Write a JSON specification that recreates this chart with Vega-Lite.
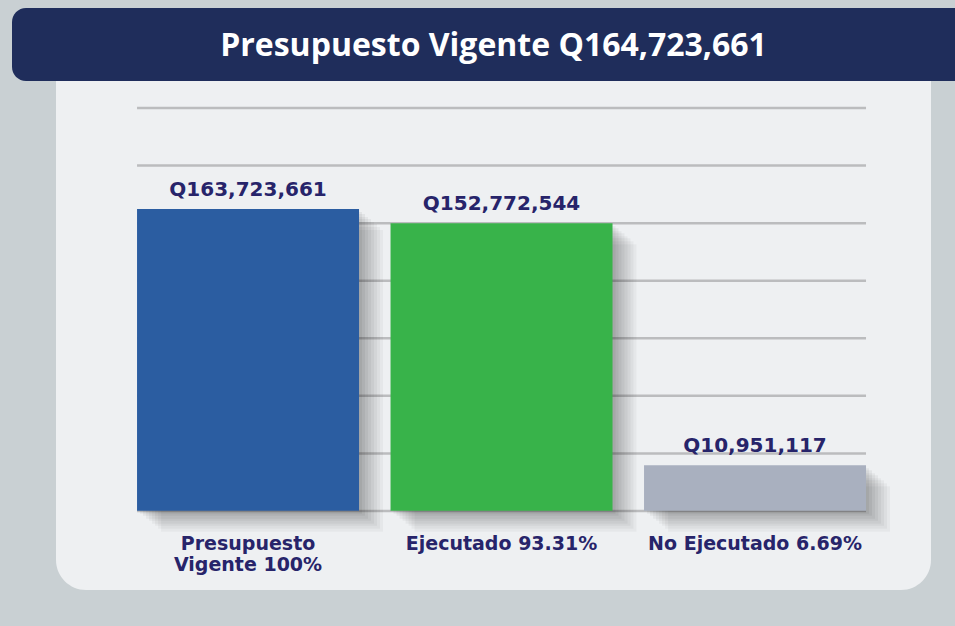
{
  "$schema": "https://vega.github.io/schema/vega-lite/v6.json",
  "background": "#c9d0d3",
  "padding": {"left": 12, "top": 8, "right": 0, "bottom": 36},
  "spacing": 0,
  "center": true,
  "config": {
    "view": {"stroke": null},
    "locale": {"number": {"decimal": ".", "thousands": ",", "grouping": [3], "currency": ["Q", ""]}}
  },
  "vconcat": [
    {
      "width": 963,
      "height": 73,
      "view": {"fill": "#1f2d5b", "cornerRadius": 14, "stroke": null},
      "data": {"values": [{"encabezado": "Presupuesto Vigente Q164,723,661"}]},
      "mark": {"type": "text", "font": "Open Sans", "fontSize": 32, "fontWeight": "bold", "color": "#ffffff", "baseline": "middle", "align": "center", "dy": 1},
      "encoding": {"text": {"field": "encabezado", "type": "nominal"}}
    },
    {
      "width": 875,
      "height": 509,
      "data": {"values": [
        {"categoria": "Presupuesto|Vigente 100%", "valor": 163723661},
        {"categoria": "Ejecutado 93.31%", "valor": 152772544},
        {"categoria": "No Ejecutado 6.69%", "valor": 10951117}
      ]},
      "resolve": {"scale": {"y": "independent"}},
      "layer": [
        {
          "data": {"values": [{"panel": "fondo"}]},
          "mark": {"type": "rect", "color": "#eef0f2", "cornerRadiusBottomLeft": 30, "cornerRadiusBottomRight": 30},
          "encoding": {
            "x": {"value": 0},
            "x2": {"value": "width"},
            "y": {"value": 0},
            "y2": {"value": "height"}
          }
        },
        {
          "data": {"values": [{"nivel": 0}, {"nivel": 1}, {"nivel": 2}, {"nivel": 3}, {"nivel": 4}, {"nivel": 5}, {"nivel": 6}, {"nivel": 7}]},
          "mark": {"type": "rule", "color": "#bbbcbe", "strokeWidth": 2.5},
          "encoding": {
            "y": {"field": "nivel", "type": "quantitative", "axis": null, "scale": {"domain": [-1.372, 7.469], "nice": false, "zero": false}},
            "x": {"datum": "Presupuesto|Vigente 100%", "type": "nominal", "bandPosition": 0, "axis": null,
                  "scale": {"type": "band", "domain": ["Presupuesto|Vigente 100%", "Ejecutado 93.31%", "No Ejecutado 6.69%"], "paddingInner": 0.1243, "paddingOuter": 0.2880, "align": 0.555}},
            "x2": {"datum": "No Ejecutado 6.69%", "bandPosition": 1}
          }
        },
        {
          "mark": {"type": "bar", "color": "#000000", "opacity": 0.035, "xOffset": 24, "x2Offset": 24, "yOffset": 21, "y2Offset": 21},
          "encoding": {
            "x": {"field": "categoria", "type": "nominal", "axis": null, "scale": {"type": "band", "domain": ["Presupuesto|Vigente 100%", "Ejecutado 93.31%", "No Ejecutado 6.69%"], "paddingInner": 0.1243, "paddingOuter": 0.2880, "align": 0.555}},
            "y": {"field": "valor", "type": "quantitative", "axis": null, "scale": {"type": "pow", "exponent": 0.7, "domain": [-24230000, 271200000], "nice": false, "zero": false}}
          }
        },
        {
          "mark": {"type": "bar", "color": "#000000", "opacity": 0.035, "xOffset": 21, "x2Offset": 21, "yOffset": 18, "y2Offset": 18},
          "encoding": {
            "x": {"field": "categoria", "type": "nominal", "axis": null, "scale": {"type": "band", "domain": ["Presupuesto|Vigente 100%", "Ejecutado 93.31%", "No Ejecutado 6.69%"], "paddingInner": 0.1243, "paddingOuter": 0.2880, "align": 0.555}},
            "y": {"field": "valor", "type": "quantitative", "axis": null, "scale": {"type": "pow", "exponent": 0.7, "domain": [-24230000, 271200000], "nice": false, "zero": false}}
          }
        },
        {
          "mark": {"type": "bar", "color": "#000000", "opacity": 0.04, "xOffset": 18, "x2Offset": 18, "yOffset": 15, "y2Offset": 15},
          "encoding": {
            "x": {"field": "categoria", "type": "nominal", "axis": null, "scale": {"type": "band", "domain": ["Presupuesto|Vigente 100%", "Ejecutado 93.31%", "No Ejecutado 6.69%"], "paddingInner": 0.1243, "paddingOuter": 0.2880, "align": 0.555}},
            "y": {"field": "valor", "type": "quantitative", "axis": null, "scale": {"type": "pow", "exponent": 0.7, "domain": [-24230000, 271200000], "nice": false, "zero": false}}
          }
        },
        {
          "mark": {"type": "bar", "color": "#000000", "opacity": 0.04, "xOffset": 15, "x2Offset": 15, "yOffset": 13, "y2Offset": 13},
          "encoding": {
            "x": {"field": "categoria", "type": "nominal", "axis": null, "scale": {"type": "band", "domain": ["Presupuesto|Vigente 100%", "Ejecutado 93.31%", "No Ejecutado 6.69%"], "paddingInner": 0.1243, "paddingOuter": 0.2880, "align": 0.555}},
            "y": {"field": "valor", "type": "quantitative", "axis": null, "scale": {"type": "pow", "exponent": 0.7, "domain": [-24230000, 271200000], "nice": false, "zero": false}}
          }
        },
        {
          "mark": {"type": "bar", "color": "#000000", "opacity": 0.045, "xOffset": 12, "x2Offset": 12, "yOffset": 10, "y2Offset": 10},
          "encoding": {
            "x": {"field": "categoria", "type": "nominal", "axis": null, "scale": {"type": "band", "domain": ["Presupuesto|Vigente 100%", "Ejecutado 93.31%", "No Ejecutado 6.69%"], "paddingInner": 0.1243, "paddingOuter": 0.2880, "align": 0.555}},
            "y": {"field": "valor", "type": "quantitative", "axis": null, "scale": {"type": "pow", "exponent": 0.7, "domain": [-24230000, 271200000], "nice": false, "zero": false}}
          }
        },
        {
          "mark": {"type": "bar", "color": "#000000", "opacity": 0.045, "xOffset": 9, "x2Offset": 9, "yOffset": 8, "y2Offset": 8},
          "encoding": {
            "x": {"field": "categoria", "type": "nominal", "axis": null, "scale": {"type": "band", "domain": ["Presupuesto|Vigente 100%", "Ejecutado 93.31%", "No Ejecutado 6.69%"], "paddingInner": 0.1243, "paddingOuter": 0.2880, "align": 0.555}},
            "y": {"field": "valor", "type": "quantitative", "axis": null, "scale": {"type": "pow", "exponent": 0.7, "domain": [-24230000, 271200000], "nice": false, "zero": false}}
          }
        },
        {
          "mark": {"type": "bar", "color": "#000000", "opacity": 0.05, "xOffset": 6, "x2Offset": 6, "yOffset": 5, "y2Offset": 5},
          "encoding": {
            "x": {"field": "categoria", "type": "nominal", "axis": null, "scale": {"type": "band", "domain": ["Presupuesto|Vigente 100%", "Ejecutado 93.31%", "No Ejecutado 6.69%"], "paddingInner": 0.1243, "paddingOuter": 0.2880, "align": 0.555}},
            "y": {"field": "valor", "type": "quantitative", "axis": null, "scale": {"type": "pow", "exponent": 0.7, "domain": [-24230000, 271200000], "nice": false, "zero": false}}
          }
        },
        {
          "mark": {"type": "bar", "color": "#000000", "opacity": 0.05, "xOffset": 3, "x2Offset": 3, "yOffset": 3, "y2Offset": 3},
          "encoding": {
            "x": {"field": "categoria", "type": "nominal", "axis": null, "scale": {"type": "band", "domain": ["Presupuesto|Vigente 100%", "Ejecutado 93.31%", "No Ejecutado 6.69%"], "paddingInner": 0.1243, "paddingOuter": 0.2880, "align": 0.555}},
            "y": {"field": "valor", "type": "quantitative", "axis": null, "scale": {"type": "pow", "exponent": 0.7, "domain": [-24230000, 271200000], "nice": false, "zero": false}}
          }
        },
        {
          "mark": {"type": "bar"},
          "encoding": {
            "x": {"field": "categoria", "type": "nominal", "axis": null, "scale": {"type": "band", "domain": ["Presupuesto|Vigente 100%", "Ejecutado 93.31%", "No Ejecutado 6.69%"], "paddingInner": 0.1243, "paddingOuter": 0.2880, "align": 0.555}},
            "y": {"field": "valor", "type": "quantitative", "axis": null, "scale": {"type": "pow", "exponent": 0.7, "domain": [-24230000, 271200000], "nice": false, "zero": false}},
            "color": {"field": "categoria", "type": "nominal", "legend": null,
                      "scale": {"domain": ["Presupuesto|Vigente 100%", "Ejecutado 93.31%", "No Ejecutado 6.69%"], "range": ["#2b5da1", "#38b34a", "#a9b0bf"]}}
          }
        },
        {
          "mark": {"type": "text", "font": "DejaVu Sans", "fontWeight": "bold", "fontSize": 20, "color": "#27246a", "baseline": "alphabetic", "align": "center", "dy": -13},
          "encoding": {
            "x": {"field": "categoria", "type": "nominal", "axis": null, "scale": {"type": "band", "domain": ["Presupuesto|Vigente 100%", "Ejecutado 93.31%", "No Ejecutado 6.69%"], "paddingInner": 0.1243, "paddingOuter": 0.2880, "align": 0.555}},
            "y": {"field": "valor", "type": "quantitative", "axis": null, "scale": {"type": "pow", "exponent": 0.7, "domain": [-24230000, 271200000], "nice": false, "zero": false}},
            "text": {"field": "valor", "type": "quantitative", "format": "$,.0f"}
          }
        },
        {
          "mark": {"type": "text", "font": "DejaVu Sans", "fontWeight": "bold", "fontSize": 19, "color": "#27246a", "baseline": "middle", "align": "center", "dy": 33, "lineBreak": "|", "lineHeight": 21},
          "encoding": {
            "x": {"field": "categoria", "type": "nominal", "axis": null, "scale": {"type": "band", "domain": ["Presupuesto|Vigente 100%", "Ejecutado 93.31%", "No Ejecutado 6.69%"], "paddingInner": 0.1243, "paddingOuter": 0.2880, "align": 0.555}},
            "y": {"datum": 0, "type": "quantitative", "axis": null, "scale": {"type": "pow", "exponent": 0.7, "domain": [-24230000, 271200000], "nice": false, "zero": false}},
            "text": {"field": "categoria", "type": "nominal"}
          }
        }
      ]
    }
  ]
}
